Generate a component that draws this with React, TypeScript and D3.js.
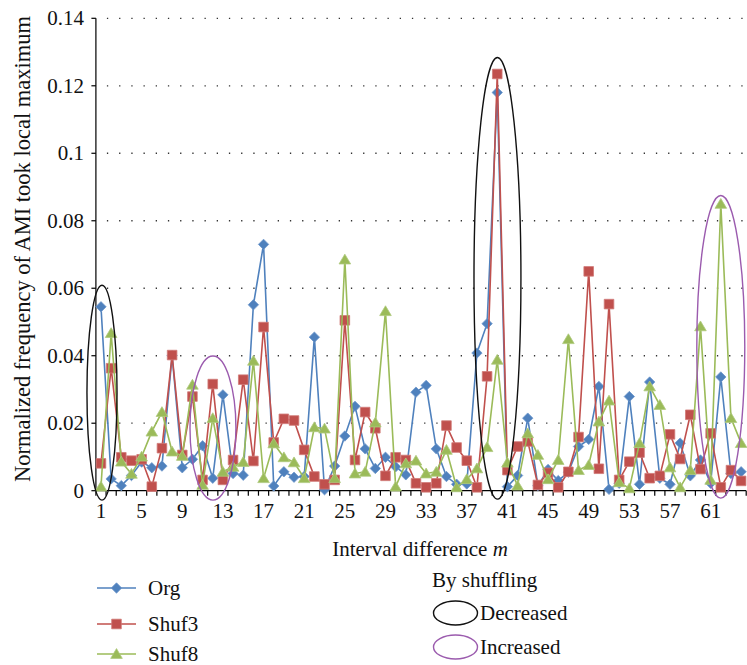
import React from "react";
import * as d3 from "d3";

// Interval differences m = 1..64
const categories: number[] = d3.range(1, 65);

// Normalized frequency of AMI local maxima per interval difference
const org: number[] = [
  0.0545, 0.0035, 0.0015, 0.0045, 0.0085, 0.0068, 0.0073, 0.04, 0.0068, 0.0093,
  0.0133, 0.0037, 0.0284, 0.0051, 0.0046, 0.0551, 0.073, 0.0014, 0.0056, 0.004,
  0.0042, 0.0455, 0.0003, 0.0073, 0.0162, 0.025, 0.0124, 0.0066, 0.0099, 0.0071,
  0.0047, 0.0292, 0.0312, 0.0124, 0.0042, 0.0019, 0.002, 0.0408, 0.0495, 0.118,
  0.0012, 0.0045, 0.0215, 0.0015, 0.0063, 0.003, 0.0055, 0.0131, 0.0152, 0.0309,
  0.0004, 0.0022, 0.0279, 0.0019, 0.0322, 0.0037, 0.0019, 0.0141, 0.0044, 0.0091,
  0.0022, 0.0337, 0.0051, 0.0056,
];
const shuf3: number[] = [
  0.0081, 0.0363, 0.0099, 0.0089, 0.0093, 0.0012, 0.0126, 0.0402, 0.0106, 0.0279,
  0.0032, 0.0316, 0.0032, 0.0091, 0.0329, 0.0088, 0.0485, 0.0143, 0.0213, 0.0208,
  0.0121, 0.0042, 0.0019, 0.0032, 0.0505, 0.0091, 0.0233, 0.0185, 0.0044, 0.0099,
  0.0091, 0.0022, 0.001, 0.0022, 0.0193, 0.0128, 0.0089, 0.001, 0.0339, 0.1235,
  0.0061, 0.0131, 0.0146, 0.0017, 0.0053, 0.001, 0.0056, 0.0159, 0.065, 0.0065,
  0.0553, 0.0032, 0.0086, 0.0113, 0.0037, 0.0044, 0.0167, 0.0094, 0.0225, 0.0064,
  0.017, 0.001, 0.0061, 0.0029,
];
const shuf8: number[] = [
  0.0012, 0.0467, 0.0086, 0.005, 0.0101, 0.0175, 0.0233, 0.0116, 0.0103, 0.0314,
  0.0017, 0.0215, 0.0056, 0.0071, 0.0085, 0.0385, 0.0037, 0.014, 0.0099, 0.0084,
  0.0037, 0.0188, 0.0184, 0.0037, 0.0685, 0.0051, 0.0056, 0.0202, 0.0532, 0.0012,
  0.0081, 0.0089, 0.0051, 0.0056, 0.0121, 0.001, 0.0034, 0.0066, 0.0129, 0.0388,
  0.0083, 0.0015, 0.017, 0.0106, 0.0034, 0.0091, 0.0449, 0.0061, 0.0076, 0.0205,
  0.0267, 0.0025, 0.0007, 0.0141, 0.0309, 0.0254, 0.0069, 0.001, 0.0061, 0.0487,
  0.0032, 0.085, 0.0215, 0.0141,
];

const seriesNames = ["Org", "Shuf3", "Shuf8"];
const yTicks: number[] = [0, 0.02, 0.04, 0.06, 0.08, 0.1, 0.12, 0.14];
const xTickLabels: number[] = categories.filter((c) => c % 4 === 1);

// Highlighted regions: centre category, half width (categories), value span
const decreasedRegions = [
  { cat: 1.1, half: 1.48, top: 0.0609, bottom: -0.0028 },
  { cat: 40.02, half: 2.31, top: 0.1284, bottom: -0.0025 },
];
const increasedRegions = [
  { cat: 12.02, half: 2.26, top: 0.0399, bottom: -0.0028 },
  { cat: 62.0, half: 2.36, top: 0.0875, bottom: -0.0022 },
];

const W = 747;
const H = 665;
const left = 95.9;
const right = 746.2;
const top = 18.3;
const bottom = 490.7;

const colors = ["#4F81BD", "#C0504D", "#9BBB59"];
const borders = ["#6f98cc", "#d07a77", "#afc97d"];
const BLACK_RING = "#111111";
const PURPLE_RING = "#9b5bae";
const FONT = "'Liberation Serif', 'DejaVu Serif', serif";
const FS = 21;

function markerPath(kind: number): string {
  if (kind === 0) {
    const r = 5.2;
    return `M0,${-r}L${r},0L0,${r}L${-r},0Z`;
  }
  if (kind === 1) {
    const s = 4.8;
    return `M${-s},${-s}H${s}V${s}H${-s}Z`;
  }
  const w = 5.8;
  return `M0,-5.4L${w},4.4L${-w},4.4Z`;
}

export default function App() {
  const x = d3
    .scaleBand<number>()
    .domain(categories)
    .range([left, right])
    .padding(0);
  const cx = (c: number) => (x(c) as number) + x.bandwidth() / 2;
  const y = d3.scaleLinear().domain([0, 0.14]).range([bottom, top]);
  const step = x.bandwidth();
  const catX = (c: number) => cx(1) + (c - 1) * step;

  const series = [org, shuf3, shuf8];
  const line = d3
    .line<number>()
    .x((_, i) => cx(categories[i]))
    .y((d) => y(d));

  const boundaries = d3.range(0, categories.length + 1).map((i) => left + i * step);

  const ring = (r: { cat: number; half: number; top: number; bottom: number }, color: string, k: string) => {
    const yt = y(r.top);
    const yb = y(r.bottom);
    return (
      <ellipse
        key={k}
        cx={catX(r.cat)}
        cy={(yt + yb) / 2}
        rx={r.half * step}
        ry={(yb - yt) / 2}
        fill="none"
        stroke={color}
        strokeWidth={1.4}
      />
    );
  };

  const legendRows = [588, 624, 654];

  return (
    <svg
      width={W}
      height={H}
      style={{ position: "absolute", left: 0, top: 0, background: "#fff" }}
      fontFamily={FONT}
    >
      <rect width={W} height={H} fill="#fff" />
      {/* dotted gridlines */}
      {yTicks.slice(1).map((t) => (
        <line
          key={`g${t}`}
          x1={left + 1}
          x2={right}
          y1={y(t)}
          y2={y(t)}
          stroke="#333"
          strokeWidth={1.3}
          strokeDasharray="1.3 10.9"
          strokeDashoffset={-10}
        />
      ))}
      {/* axes */}
      <line x1={left} x2={left} y1={top} y2={bottom} stroke="#000" strokeWidth={1.2} />
      <line x1={left} x2={right} y1={bottom} y2={bottom} stroke="#000" strokeWidth={1.2} />
      {yTicks.map((t) => (
        <g key={`yt${t}`}>
          <line x1={left - 4.5} x2={left} y1={y(t)} y2={y(t)} stroke="#000" strokeWidth={1.2} />
          <text
            x={left - 12}
            y={y(t)}
            textAnchor="end"
            dominantBaseline="central"
            fontSize={FS}
            fill="#111"
          >
            {String(t)}
          </text>
        </g>
      ))}
      {boundaries.map((bx, i) => (
        <line key={`xt${i}`} x1={bx} x2={bx} y1={bottom} y2={bottom + 5} stroke="#000" strokeWidth={1.2} />
      ))}
      {xTickLabels.map((c) => (
        <text
          key={`xl${c}`}
          x={cx(c)}
          y={bottom + 20}
          textAnchor="middle"
          dominantBaseline="central"
          fontSize={FS}
          fill="#111"
        >
          {c}
        </text>
      ))}
      <text x={420} y={549} textAnchor="middle" dominantBaseline="central" fontSize={FS} fill="#111">
        Interval difference <tspan fontStyle="italic">m</tspan>
      </text>
      <text
        transform={`translate(22,249) rotate(-90)`}
        textAnchor="middle"
        dominantBaseline="central"
        fontSize={22.5}
        fill="#111"
      >
        Normalized frequency of AMI took local maximum
      </text>

      {/* series */}
      {series.map((vals, si) => (
        <g key={`s${si}`}>
          <path d={line(vals) ?? ""} fill="none" stroke={colors[si]} strokeWidth={1.6} />
          {vals.map((v, i) => (
            <path
              key={i}
              d={markerPath(si)}
              transform={`translate(${cx(categories[i])},${y(v)})`}
              fill={colors[si]}
              stroke={borders[si]}
              strokeWidth={0.8}
            />
          ))}
        </g>
      ))}

      {/* highlighted regions */}
      {decreasedRegions.map((r, i) => ring(r, BLACK_RING, `d${i}`))}
      {increasedRegions.map((r, i) => ring(r, PURPLE_RING, `i${i}`))}

      {/* legend */}
      {seriesNames.map((name, si) => (
        <g key={`lg${si}`}>
          <line x1={97} x2={136} y1={legendRows[si]} y2={legendRows[si]} stroke={colors[si]} strokeWidth={1.6} />
          <path
            d={markerPath(si)}
            transform={`translate(116.5,${legendRows[si]})`}
            fill={colors[si]}
            stroke={borders[si]}
            strokeWidth={0.8}
          />
          <text x={148} y={legendRows[si]} dominantBaseline="central" fontSize={FS} fill="#111">
            {name}
          </text>
        </g>
      ))}
      <text x={432} y={580} dominantBaseline="central" fontSize={FS} fill="#111">
        By shuffling
      </text>
      <ellipse cx={455.5} cy={613} rx={22} ry={12} fill="none" stroke={BLACK_RING} strokeWidth={1.4} />
      <text x={480} y={613} dominantBaseline="central" fontSize={FS} fill="#111">
        Decreased
      </text>
      <ellipse cx={455.5} cy={647} rx={22} ry={12} fill="none" stroke={PURPLE_RING} strokeWidth={1.4} />
      <text x={480} y={647} dominantBaseline="central" fontSize={FS} fill="#111">
        Increased
      </text>
    </svg>
  );
}
